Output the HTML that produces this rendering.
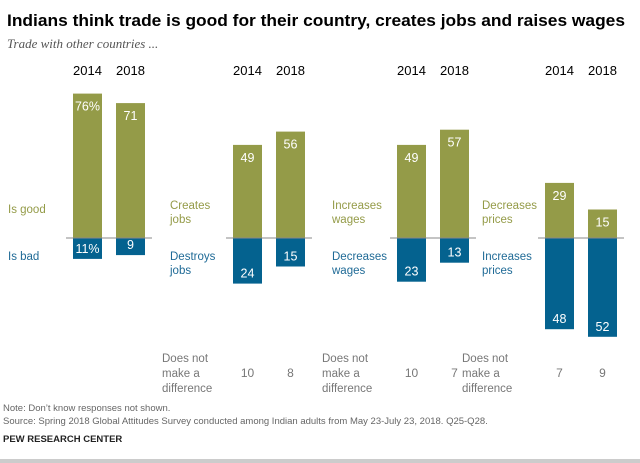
<!DOCTYPE html>
<html><head><meta charset="utf-8"><style>
body{margin:0;background:#fff;width:640px;height:463px;overflow:hidden;font-family:"Liberation Sans",sans-serif}
svg{display:block}
</style></head><body>
<svg id="c" width="640" height="463">
<text x="7" y="26" font-size="17" font-weight="bold" fill="#000" textLength="618" lengthAdjust="spacingAndGlyphs">Indians think trade is good for their country, creates jobs and raises wages</text>
<text x="7" y="48" font-size="13" font-style="italic" font-family="Liberation Serif,serif" fill="#555">Trade with other countries ...</text>
<text x="3" y="411" font-size="9.5" fill="#666">Note: Don’t know responses not shown.</text>
<text x="3" y="424" font-size="9.5" fill="#666">Source: Spring 2018 Global Attitudes Survey conducted among Indian adults from May 23-July 23, 2018. Q25-Q28.</text>
<text x="3" y="442" font-size="9.5" font-weight="bold" fill="#222">PEW RESEARCH CENTER</text>
<rect x="0" y="459" width="640" height="4" fill="#ccc"/>
</svg>
<script>
const years=["2014","2018"];
const positives=[[76,71],[49,56],[49,57],[29,15]];
const negatives=[[11,9],[24,15],[23,13],[48,52]];
const neutral=[null,[10,8],[10,7],[7,9]];
const posLabels=[["Is good"],["Creates","jobs"],["Increases","wages"],["Decreases","prices"]];
const negLabels=[["Is bad"],["Destroys","jobs"],["Decreases","wages"],["Increases","prices"]];
const svg=document.getElementById('c');const NS='http://www.w3.org/2000/svg';
const base=238,k=1.9,bw=29;
const groupX=[73,233,397,545],gap=43,labelX=[8,170,332,482],neutX=[0,162,322,462];
const y=v=>v*k;
function el(t,a,txt){const e=document.createElementNS(NS,t);for(const n in a)e.setAttribute(n,a[n]);if(txt!=null)e.textContent=txt;svg.appendChild(e);return e;}
positives.forEach((g,i)=>{
  const gx=groupX[i];
  g.forEach((v,j)=>{
    const x=gx+j*gap;
    const yt=el('text',{x:x+bw/2,y:75,'font-size':13,'text-anchor':'middle',fill:'#000'},years[j]);
    
    
    const r=el('rect',{x:x,y:base-y(v),width:bw,height:y(v),fill:'#949b48'});
    
    
    const t=el('text',{x:x+bw/2,y:base-y(v)+17,'font-size':12.5,'text-anchor':'middle',fill:'#fff'},v+(i==0&&j==0?'%':''));
    
    
    const n=negatives[i][j];
    const r2=el('rect',{x:x,y:base,width:bw,height:y(n),fill:'#04628f'});
    
    
    const t2=el('text',{x:x+bw/2,y:base+y(n)-6,'font-size':12.5,'text-anchor':'middle',fill:'#fff'},n+(i==0&&j==0?'%':''));
    
    
    if(neutral[i]){const t3=el('text',{x:x+bw/2,y:377,'font-size':12,'text-anchor':'middle',fill:'#777'},neutral[i][j]);
      
      }
  });
  const ln=el('line',{x1:gx-7,x2:gx+gap+bw+7,y1:base,y2:base,stroke:'#888','stroke-width':1});
  
  
  const pl=posLabels[i],nl=negLabels[i];
  pl.forEach((s,m)=>{const t=el('text',{x:labelX[i],y:(pl.length==1?213:209)+m*14,'font-size':11.5,fill:'#949b48'},s);
    
    });
  nl.forEach((s,m)=>{const t=el('text',{x:labelX[i],y:260+m*14,'font-size':11.5,fill:'#1f6a96'},s);
    
    });
  if(neutral[i]){["Does not","make a","difference"].forEach((s,m)=>{const t=el('text',{x:neutX[i],y:362+m*15,'font-size':11.5,fill:'#777'},s);
    
    });}
});
</script>
</body></html>
